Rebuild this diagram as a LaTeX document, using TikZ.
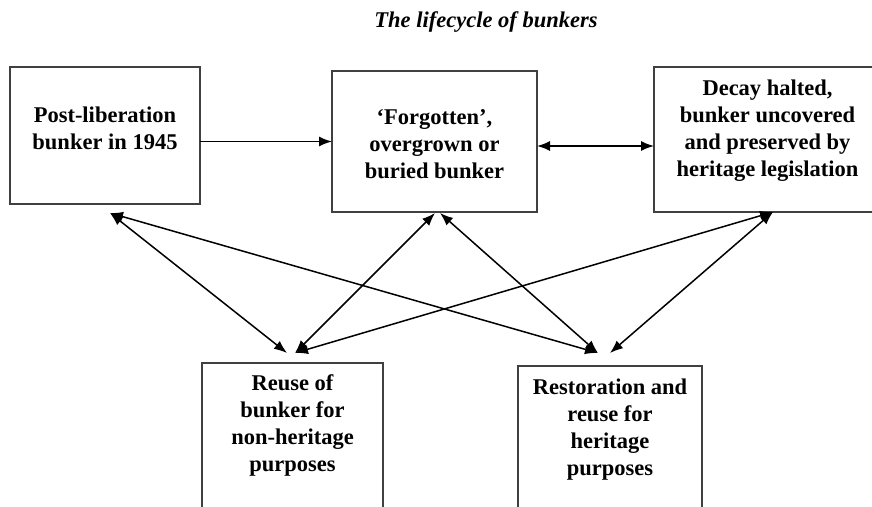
\documentclass[tikz,border=0pt]{standalone}
\usepackage{fontspec}
\setmainfont{Liberation Serif}
\usetikzlibrary{calc,arrows.meta}

\begin{document}
\begin{tikzpicture}[x=1pt,y=-1pt] % LIFECYCLE
    \tikzset{%
        >={Latex[length=13pt,width=10pt]}, % filled arrow tips
        inner sep=0pt,%
        outer sep=0pt,%
        stage/.style={draw=black!75,line width=1.6pt},%
        stage text/.style={align=center,
                font=\fontsize{22.5}{27}\selectfont\bfseries},%
        link/.style={<->,line width=1.5pt}%
    }
    %% page frame

    \useasboundingbox (0,0) rectangle (872,506);
    \clip (0,0) rectangle (872,506);

    %% title

    \node[font=\fontsize{22.5}{27}\selectfont\bfseries\itshape] (title)
    at (486,22) {The lifecycle of bunkers};

    %% stage boxes (the right and lower ones run off the page)

    \node[stage,minimum width=190pt,minimum height=137pt] (post) at (105,135.5) {};
    \node[stage,minimum width=205pt,minimum height=141pt] (forgot) at (434.5,141.5) {};
    \node[stage,minimum width=227pt,minimum height=145pt] (decay) at (767.5,139.5) {};
    \node[stage,minimum width=181pt,minimum height=170pt] (reuse) at (292.5,448) {};
    \node[stage,minimum width=184pt,minimum height=170pt] (restore) at (610,451) {};

    %% stage texts

    \node[stage text] (post-txt) at (105,128) {Post-liberation\\bunker in 1945};
    \node[stage text] (forgot-txt) at (434.5,144.5) {`Forgotten',\\overgrown or\\buried bunker};
    \node[stage text] (decay-txt) at (767.5,131) {Decay halted,\\bunker uncovered\\and
        preserved by\\heritage legislation};
    \node[stage text] (reuse-txt) at (292.5,425.5) {Reuse of\\bunker for\\non-heritage\\purposes};
    \node[stage text] (restore-txt) at (610,429.5) {Restoration and\\reuse for\\heritage\\purposes};

    %% arrow ends

    \coordinate (post-s) at ($(post.south)+(5,9)$);
    \coordinate (forgot-s1) at ($(forgot.south)+(0.5,1)$);
    \coordinate (forgot-s2) at ($(forgot.south)+(5.5,1)$);
    \coordinate (decay-s) at ($(decay.south)+(5.5,0)$);
    \coordinate (reuse-n1) at ($(reuse.north)+(-5.5,-10)$);
    \coordinate (reuse-n2) at ($(reuse.north)+(2.5,-10)$);
    \coordinate (restore-n1) at ($(restore.north)+(-12,-13)$);
    \coordinate (restore-n2) at ($(restore.north)+(0,-13)$);

    %% connectors

    \draw[->,line width=1.5pt] (post.east |- forgot.west) -- (forgot.west);
    \draw[link] ($(forgot.east)+(0,4.5)$) -- ($(decay.west)+(0,6.5)$);
    \draw[link] (post-s) -- (reuse-n1);
    \draw[link] (post-s) -- (restore-n1);
    \draw[link] (forgot-s1) -- (reuse-n2);
    \draw[link] (forgot-s2) -- (restore-n1);
    \draw[link] (decay-s) -- (reuse-n2);
    \draw[link] (decay-s) -- (restore-n2);
\end{tikzpicture}
\end{document}
